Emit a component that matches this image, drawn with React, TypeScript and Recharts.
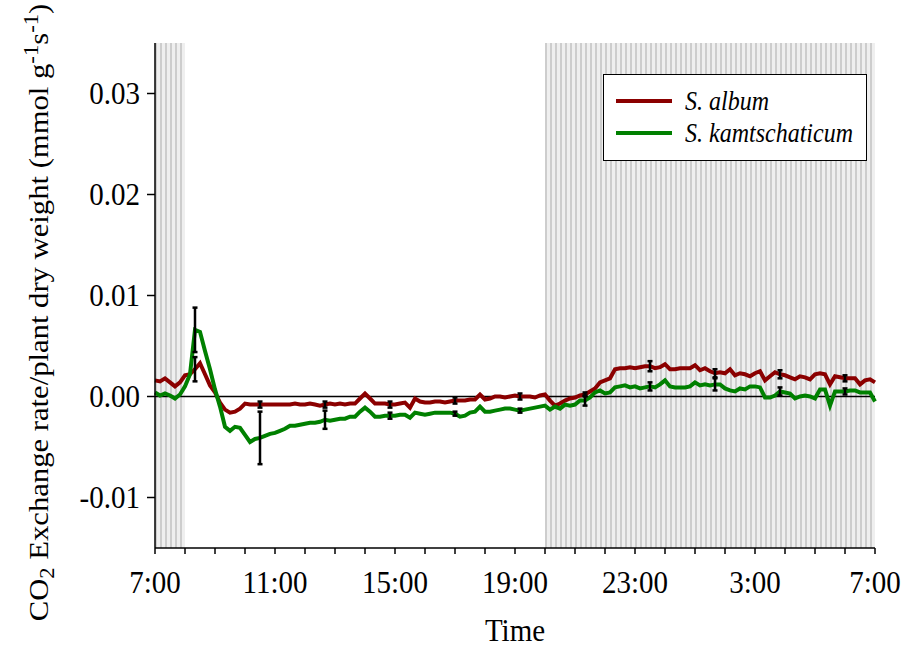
import React from 'react';
import {
  ComposedChart,
  Line,
  Scatter,
  ErrorBar,
  XAxis,
  YAxis,
  ReferenceArea,
  ReferenceLine,
  Legend,
} from 'recharts';

const FONT = '"Liberation Serif", "Times New Roman", serif';
const FONT_SIZE = 29;
const VSTRETCH = 1.1;

// Sampling interval of the gas-exchange record, in minutes (starting 7:00)
const STEP_MIN = 10;

// CO2 exchange rate per plant dry weight (mmol g-1 s-1), one value per sample
const album = [
  0.0016, 0.0015, 0.0018, 0.0014, 0.0010, 0.0014, 0.0021, 0.0022, 0.0027, 0.0033,
  0.0022, 0.0011, 0.0004, -0.0006, -0.0013, -0.0016, -0.0015, -0.0012, -0.0007, -0.0008,
  -0.0008, -0.0008, -0.0008, -0.0008, -0.0008, -0.0008, -0.0008, -0.0008, -0.0007, -0.0008,
  -0.0008, -0.0007, -0.0008, -0.0009, -0.0008, -0.0007, -0.0008, -0.0007, -0.0008, -0.0007,
  -0.0007, -0.0002, 0.0003, -0.0002, -0.0007, -0.0007, -0.0007, -0.0008, -0.0008, -0.0007,
  -0.0006, -0.0011, -0.0002, -0.0005, -0.0006, -0.0006, -0.0005, -0.0005, -0.0006, -0.0005,
  -0.0004, -0.0004, -0.0004, -0.0003, -0.0003, 0.0002, -0.0003, -0.0002, 0.0000, 0.0000,
  -0.0001, 0.0000, 0.0001, 0.0000, 0.0000, 0.0000, -0.0001, 0.0001, 0.0002, -0.0004,
  -0.0009, -0.0007, -0.0004, -0.0002, -0.0001, 0.0001, 0.0002, 0.0005, 0.0008, 0.0014,
  0.0016, 0.0018, 0.0027, 0.0028, 0.0028, 0.0029, 0.0028, 0.0029, 0.0030, 0.0030,
  0.0028, 0.0029, 0.0032, 0.0027, 0.0027, 0.0028, 0.0028, 0.0028, 0.0031, 0.0026,
  0.0028, 0.0025, 0.0023, 0.0024, 0.0023, 0.0027, 0.0021, 0.0023, 0.0022, 0.0020,
  0.0023, 0.0025, 0.0016, 0.0020, 0.0024, 0.0022, 0.0021, 0.0019, 0.0017, 0.0020,
  0.0019, 0.0017, 0.0022, 0.0023, 0.0022, 0.0012, 0.0020, 0.0019, 0.0018, 0.0018,
  0.0018, 0.0012, 0.0016, 0.0017, 0.0014,
];

const kamtschaticum = [
  0.0004, 0.0001, 0.0003, 0.0001, -0.0002, 0.0002, 0.0010, 0.0022, 0.0066, 0.0064,
  0.0045, 0.0027, 0.0007, -0.0010, -0.0030, -0.0034, -0.0030, -0.0031, -0.0038, -0.0045,
  -0.0042, -0.0041, -0.0039, -0.0037, -0.0036, -0.0034, -0.0032, -0.0029, -0.0029, -0.0028,
  -0.0027, -0.0026, -0.0026, -0.0025, -0.0023, -0.0024, -0.0023, -0.0022, -0.0022, -0.0020,
  -0.0020, -0.0015, -0.0011, -0.0015, -0.0020, -0.0020, -0.0019, -0.0019, -0.0019, -0.0018,
  -0.0018, -0.0021, -0.0016, -0.0017, -0.0018, -0.0017, -0.0016, -0.0016, -0.0016, -0.0016,
  -0.0017, -0.0020, -0.0019, -0.0016, -0.0015, -0.0010, -0.0015, -0.0015, -0.0014, -0.0013,
  -0.0012, -0.0012, -0.0013, -0.0014, -0.0013, -0.0012, -0.0011, -0.0010, -0.0009, -0.0013,
  -0.0010, -0.0012, -0.0008, -0.0009, -0.0008, -0.0004, -0.0004, -0.0001, 0.0004, 0.0006,
  0.0003, 0.0004, 0.0009, 0.0010, 0.0011, 0.0009, 0.0010, 0.0008, 0.0009, 0.0010,
  0.0009, 0.0012, 0.0016, 0.0010, 0.0009, 0.0009, 0.0009, 0.0010, 0.0014, 0.0011,
  0.0012, 0.0011, 0.0012, 0.0012, 0.0008, 0.0006, 0.0005, 0.0008, 0.0007, 0.0010,
  0.0010, 0.0009, -0.0001, -0.0001, 0.0001, 0.0005, 0.0004, 0.0003, -0.0002, 0.0000,
  0.0001, 0.0000, -0.0002, 0.0007, 0.0007, -0.0009, 0.0005, 0.0005, 0.0005, 0.0006,
  0.0006, 0.0004, 0.0004, 0.0004, -0.0005,
];

// Samples that carry a standard error, and the error values for each species
const errorIndex = [8, 21, 34, 47, 60, 73, 86, 99, 112, 125, 138];
const albumErr = [0.0012, 0.0003, 0.0003, 0.0003, 0.0003, 0.0003, 0.0002, 0.0005, 0.0004, 0.0004, 0.0003];
const kamtschaticumErr = [0.0022, 0.0026, 0.0009, 0.0003, 0.0002, 0.0002, 0.0005, 0.0004, 0.0006, 0.0004, 0.0003];

// Dark periods, in hours after 7:00
const darkPeriods = [
  [0, 1],
  [13, 24],
];

const xTicks = [0, 1, 2, 3, 4, 5, 6, 7, 8, 9, 10, 11, 12, 13, 14, 15, 16, 17, 18, 19, 20, 21, 22, 23, 24];
const xTickLabels = ['7:00', '11:00', '15:00', '19:00', '23:00', '3:00', '7:00'];
const yTicks = [-0.01, 0, 0.01, 0.02, 0.03];
const yTickLabels = ['-0.01', '0.00', '0.01', '0.02', '0.03'];

const series = [
  { key: 'album', name: 'S. album', color: '#8b0000' },
  { key: 'kamtschaticum', name: 'S. kamtschaticum', color: '#008000' },
];

const rows = album.map((v, i) => ({
  h: (i * STEP_MIN) / 60,
  album: v,
  kamtschaticum: kamtschaticum[i],
}));

const albumBars = errorIndex.map((idx, j) => ({ h: rows[idx].h, y: album[idx], err: albumErr[j] }));
const kamtBars = errorIndex.map((idx, j) => ({ h: rows[idx].h, y: kamtschaticum[idx], err: kamtschaticumErr[j] }));

const XTick = (props: any) => {
  const { x, y, payload } = props;
  const v = payload.value;
  const label = v % 4 === 0 ? xTickLabels[v / 4] : '';
  if (!label) return <g />;
  return (
    <g transform={`translate(${x},${y})`}>
      <text
        transform={`scale(1,${VSTRETCH})`}
        textAnchor="middle"
        dy="0.71em"
        fontSize={FONT_SIZE}
        fontFamily={FONT}
        fill="#000"
      >
        {label}
      </text>
    </g>
  );
};

const YTick = (props: any) => {
  const { x, y, payload } = props;
  const i = yTicks.findIndex((t) => Math.abs(t - payload.value) < 1e-9);
  return (
    <g transform={`translate(${x},${y})`}>
      <text
        transform={`scale(1,${VSTRETCH})`}
        textAnchor="end"
        dy="0.34em"
        fontSize={FONT_SIZE}
        fontFamily={FONT}
        fill="#000"
      >
        {i >= 0 ? yTickLabels[i] : ''}
      </text>
    </g>
  );
};

const XTitle = (props: any) => {
  const vb = props.viewBox || { x: 155, y: 548, width: 720, height: 60 };
  const cx = vb.x + vb.width / 2;
  const by = vb.y + vb.height + 33;
  return (
    <text
      transform={`translate(${cx},${by}) scale(1,${VSTRETCH})`}
      textAnchor="middle"
      fontSize={FONT_SIZE}
      fontFamily={FONT}
      fill="#000"
    >
      Time
    </text>
  );
};

const YTitle = (props: any) => {
  const vb = props.viewBox || { x: 80, y: 43, width: 75, height: 505 };
  const bx = vb.x - 32;
  const cy = vb.y + vb.height / 2 + 17;
  const small = 20;
  return (
    <text
      transform={`translate(${bx},${cy}) rotate(-90) scale(1.135,1)`}
      textAnchor="middle"
      fontSize={27}
      fontFamily={FONT}
      fill="#000"
    >
      CO
      <tspan dy={6} fontSize={small}>2</tspan>
      <tspan dy={-6}> Exchange rate/plant dry weight (mmol g</tspan>
      <tspan dy={-10} fontSize={small}>-1</tspan>
      <tspan dy={10}>s</tspan>
      <tspan dy={-10} fontSize={small}>-1</tspan>
      <tspan dy={10}>)</tspan>
    </text>
  );
};

const LegendBox = () => (
  <div
    style={{
      width: 264,
      height: 87,
      boxSizing: 'border-box',
      border: '1.5px solid #000',
      background: '#fff',
      position: 'relative',
      fontFamily: FONT,
      fontStyle: 'italic',
      fontSize: 24,
      color: '#000',
    }}
  >
    {series.map((s, i) => (
      <div key={s.key} style={{ position: 'absolute', left: 0, top: 26 + i * 32, width: '100%', height: 0 }}>
        <div style={{ position: 'absolute', left: 12, top: -2, width: 56, height: 4, background: s.color }} />
        <div
          style={{
            position: 'absolute',
            left: 81,
            top: -15,
            lineHeight: '30px',
            whiteSpace: 'nowrap',
            transform: `scaleY(${VSTRETCH})`,
            transformOrigin: 'left center',
          }}
        >
          {s.name}
        </div>
      </div>
    ))}
  </div>
);

export default function App() {
  return (
    <div style={{ position: 'absolute', left: 0, top: 0, background: '#fff' }}>
      <ComposedChart width={911} height={650} data={rows} margin={{ top: 43, right: 36, bottom: 42, left: 80 }}>
        <defs>
          <pattern id="darkHatch" width="5" height="10" patternUnits="userSpaceOnUse">
            <rect x="0" y="0" width="5" height="10" fill="#efefef" />
            <rect x="0" y="0" width="2" height="10" fill="#cdcdcd" />
          </pattern>
        </defs>
        <XAxis
          dataKey="h"
          type="number"
          domain={[0, 24]}
          ticks={xTicks}
          interval={0}
          height={60}
          tickSize={6}
          tickMargin={16}
          tickLine={{ stroke: '#000', strokeWidth: 1.5 }}
          axisLine={{ stroke: '#000', strokeWidth: 1.5 }}
          tick={<XTick />}
          label={<XTitle />}
        />
        <XAxis
          xAxisId="top"
          orientation="top"
          type="number"
          domain={[0, 24]}
          height={0}
          tick={false}
          tickLine={false}
          axisLine={{ stroke: '#000', strokeWidth: 1.5 }}
        />
        <YAxis
          type="number"
          domain={[-0.015, 0.035]}
          ticks={yTicks}
          interval={0}
          width={75}
          tickSize={8}
          tickMargin={7}
          tickLine={{ stroke: '#000', strokeWidth: 1.5 }}
          axisLine={{ stroke: '#000', strokeWidth: 1.5 }}
          tick={<YTick />}
          label={<YTitle />}
        />
        <YAxis
          yAxisId="right"
          orientation="right"
          type="number"
          domain={[0, 1]}
          width={0}
          tick={false}
          tickLine={false}
          axisLine={{ stroke: '#000', strokeWidth: 1.5 }}
        />
        {darkPeriods.map(([a, b]) => (
          <ReferenceArea key={`d${a}`} x1={a} x2={b} fill="url(#darkHatch)" fillOpacity={1} stroke="none" ifOverflow="visible" />
        ))}
        <ReferenceLine y={0} stroke="#000" strokeWidth={1.5} />
        {series.map((s) => (
          <Line
            key={s.key}
            type="linear"
            dataKey={s.key}
            name={s.name}
            stroke={s.color}
            strokeWidth={4}
            dot={false}
            activeDot={false}
            isAnimationActive={false}
          />
        ))}
        <Scatter data={albumBars} dataKey="y" shape={() => <g />} isAnimationActive={false} legendType="none">
          <ErrorBar dataKey="err" direction="y" width={2.5} stroke="#000" strokeWidth={2.5} isAnimationActive={false} />
        </Scatter>
        <Scatter data={kamtBars} dataKey="y" shape={() => <g />} isAnimationActive={false} legendType="none">
          <ErrorBar dataKey="err" direction="y" width={2.5} stroke="#000" strokeWidth={2.5} isAnimationActive={false} />
        </Scatter>
        <Legend
          layout="horizontal"
          verticalAlign="middle"
          align="center"
          content={<LegendBox />}
          wrapperStyle={{ top: 74, left: 603, width: 264, height: 87 }}
        />
      </ComposedChart>
    </div>
  );
}
